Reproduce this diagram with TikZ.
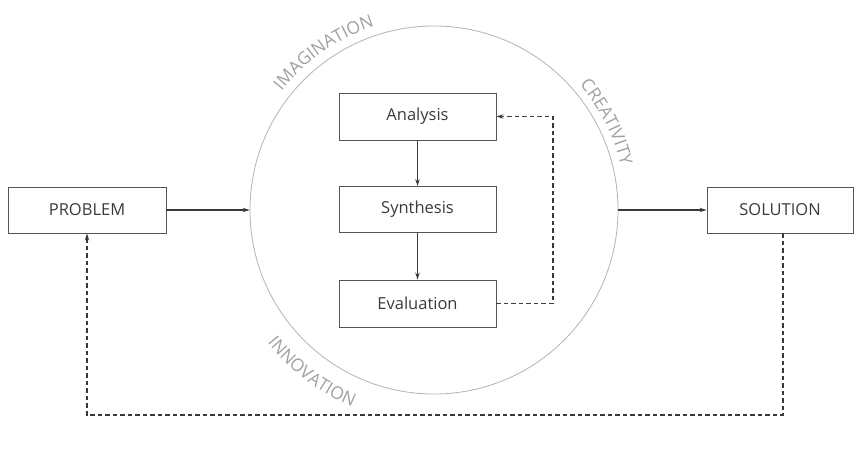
\documentclass[tikz,border=0pt]{standalone}
\usepackage{fontspec}
\setmainfont{Open Sans}
\usetikzlibrary{arrows.meta,decorations.text}
\definecolor{txt}{HTML}{3A3A3A}
\definecolor{edge}{HTML}{555555}
\definecolor{lbl}{HTML}{A0A0A0}
\begin{document}
\begin{tikzpicture}[x=1pt,y=1pt,
  box/.style={draw=edge,line width=0.9pt,minimum height=46pt,inner sep=0pt,text=txt,font=\fontsize{16.5}{18}\selectfont},
  arr/.style={draw=txt,line width=1.1pt,-{Stealth[length=7pt,width=4.5pt]}},
  darr/.style={draw=txt,line width=1.1pt,dash pattern=on 4.5pt off 3pt,-{Stealth[length=7pt,width=4.5pt]}},
  curv/.style={decorate,decoration={text along path,text align=center,text color=lbl,
     text={|\fontsize{17.5}{19}\selectfont|#1}}}]
\useasboundingbox (0,0) rectangle (858,451);
\node[draw=lbl!80,line width=0.8pt,circle,minimum size=368pt,inner sep=0pt] (circ) at (434,241) {};
\node[box,minimum width=158pt] (prob) at (87,241) {PROBLEM};
\node[box,minimum width=146pt] (sol) at (780,241) {SOLUTION};
\node[box,minimum width=157pt,minimum height=47pt] (ana) at (417.5,334.5) {Analysis};
\node[box,minimum width=157pt] (syn) at (417.5,241.5) {Synthesis};
\node[box,minimum width=157pt,minimum height=47pt] (eva) at (417.5,147.5) {Evaluation};
\coordinate (fb) at (553,147.5);
\coordinate (bl) at (87,36);
\coordinate (br) at (783,36);
\draw[arr] (prob.east) -- (circ.west);
\draw[arr] (circ.east) -- (sol.west);
\draw[arr] (ana.south) -- (syn.north);
\draw[arr] (syn.south) -- (eva.north);
\draw[darr] (eva.east) -- (fb) |- (ana.east);
\draw[darr] (sol.south -| br) -- (br) -- (bl) -- (prob.south);
\path[curv={IMAGINATION}] (434,241) ++(150:193) arc[start angle=150,end angle=100,radius=193];
\path[curv={CREATIVITY}] (434,241) ++(50:192) arc[start angle=50,end angle=4,radius=192];
\path[curv={INNOVATION}] (434,241) ++(208:213) arc[start angle=208,end angle=258,radius=213];
\end{tikzpicture}
\end{document}
